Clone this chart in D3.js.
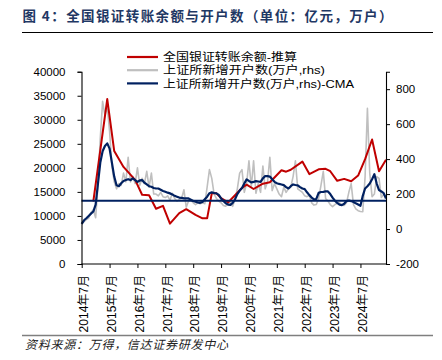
<!DOCTYPE html>
<html><head><meta charset="utf-8">
<script src="https://cdn.jsdelivr.net/npm/d3@7"></script>
<style>
body{margin:0;background:#fff;}
svg{display:block;}
</style></head>
<body><svg id="c" width="442" height="360"></svg>
<script>
// ---- data ----
const titleText = "图 4：全国银证转账余额与开户数（单位：亿元，万户）";
const sourceText = "资料来源：万得，信达证券研发中心";
const legendLabels = ["全国银证转账余额-推算", "上证所新增开户数(万户,rhs)", "上证所新增开户数(万户,rhs)-CMA"];
const startMonth = "2014-07", endMonth = "2025-06";
const leftTicks = [0, 5000, 10000, 15000, 20000, 25000, 30000, 35000, 40000];
const rightTicks = [-200, 0, 200, 400, 600, 800];
const redMonths = ["2014-12","2015-06","2015-09","2016-01","2016-06","2016-09","2016-12","2017-03","2017-06","2017-09",
  "2018-01","2018-04","2018-08","2018-11","2019-01","2019-03","2019-05","2019-07","2019-10","2020-01",
  "2020-04","2020-06","2020-09","2021-01","2021-04","2021-06","2021-09","2021-11","2022-01","2022-06",
  "2022-09","2023-01","2023-04","2023-06","2023-09","2023-12","2024-03","2024-06","2024-09","2024-12",
  "2025-03","2025-06"];
const redValues = [13000,34300,23500,20200,17500,14400,14300,11500,12100,8400,
  10600,11400,10200,9500,9500,14700,14700,13700,12800,14300,
  15800,16500,15600,16700,17000,18000,19500,19200,19600,21300,
  18700,19700,19800,19300,17300,17700,17200,18400,21800,25900,
  19300,21700];
const grayValues = [30,42,55,62,95,110,65,250,520,730,
  650,700,560,360,270,230,260,250,320,270,
  410,270,300,260,350,250,290,260,330,240,
  320,200,200,190,210,185,180,190,165,205,
  175,160,170,175,225,125,160,165,150,140,
  150,145,150,145,240,340,290,200,175,160,
  150,135,130,145,150,130,170,230,320,340,
  210,260,390,240,390,205,260,210,360,230,
  270,410,220,260,230,200,185,240,210,230,
  240,300,390,230,220,210,190,185,194,150,
  137,140,175,250,330,175,160,140,128,140,
  147,150,137,135,150,210,260,140,115,105,
  100,99,300,690,320,185,200,300,290,180,
  200,185];
const cmaValues = [30,50,62,75,88,100,140,260,380,445,
  475,490,460,380,300,250,245,262,275,280,
  285,280,290,280,270,278,280,265,255,245,
  242,235,232,232,225,218,213,208,204,198,
  190,185,180,178,175,175,175,168,160,156,
  152,150,155,170,185,205,210,206,204,195,
  175,160,147,140,138,150,170,200,220,235,
  260,284,275,267,270,274,272,270,290,303,
  303,300,285,270,262,258,255,251,240,232,
  245,255,252,250,240,232,228,210,194,180,
  170,172,207,212,213,215,215,200,180,162,
  150,140,137,145,160,163,160,155,147,140,
  133,190,232,245,260,285,314,260,223,215,
  205,175];
const cmaMean = 162;

// ---- build months ----
const parse = d3.timeParse("%Y-%m"), fmt = d3.timeFormat("%Y-%m");
const months = d3.timeMonth.range(parse(startMonth), d3.timeMonth.offset(parse(endMonth), 1)).map(fmt);

// ---- layout ----
const L = 81.5, R = 386, T = 71.7, B = 264;
const svg = d3.select("#c");
const x = d3.scalePoint().domain(months).range([L + 0.2, R]);
const yL = d3.scaleLinear().domain([0, 40000]).range([B, T]);
const yR = d3.scaleLinear().domain([-200, 900]).range([B, T]);

const numFont = "'Liberation Sans', Arial, sans-serif";
const cjkFont = "'Noto Sans CJK SC', sans-serif";

// title
svg.append("text").attr("x", 22.5).attr("y", 20.5)
  .attr("font-family", cjkFont).attr("font-weight", "bold").attr("font-size", 13.5)
  .attr("fill", "#1F3864").attr("textLength", 370).attr("lengthAdjust", "spacing")
  .text(titleText);
svg.append("line").attr("x1", 22).attr("x2", 433).attr("y1", 32.5).attr("y2", 32.5)
  .attr("stroke", "#000").attr("stroke-width", 1);

// lines
const lineG = d3.line().x((d, i) => x(months[i])).y(d => yR(d));
svg.append("path").datum(grayValues).attr("d", lineG)
  .attr("fill", "none").attr("stroke", "#BFBFBF").attr("stroke-width", 1.6).attr("stroke-linejoin", "round");
const redData = redMonths.map((m, i) => ({m, v: redValues[i]}));
svg.append("path").datum(redData)
  .attr("d", d3.line().x(d => x(d.m)).y(d => yL(d.v)))
  .attr("fill", "none").attr("stroke", "#C00000").attr("stroke-width", 2).attr("stroke-linejoin", "round");
svg.append("path").datum(cmaValues).attr("d", lineG)
  .attr("fill", "none").attr("stroke", "#002060").attr("stroke-width", 2.2).attr("stroke-linejoin", "round");
svg.append("line").attr("x1", L).attr("x2", R).attr("y1", yR(cmaMean)).attr("y2", yR(cmaMean))
  .attr("stroke", "#002060").attr("stroke-width", 2);

// axes
const axL = svg.append("g").attr("transform", `translate(${L},0)`)
  .call(d3.axisLeft(yL).tickValues(leftTicks).tickSize(4).tickPadding(12).tickFormat(d3.format("d")));
const axR = svg.append("g").attr("transform", `translate(${R},0)`)
  .call(d3.axisRight(yR).tickValues(rightTicks).tickSize(4).tickPadding(6).tickFormat(d => d < 0 ? "-" + Math.abs(d) : d));
const xTicks = months.filter(m => m.endsWith("-07"));
const axB = svg.append("g").attr("transform", `translate(0,${B})`)
  .call(d3.axisBottom(x).tickValues(xTicks).tickSize(4).tickFormat(m => {
    const [yy, mm] = m.split("-"); return `${yy}年${+mm}月`; }));
[axL, axR, axB].forEach(a => {
  a.select(".domain").attr("stroke", "#000").attr("stroke-width", 1.1);
  a.selectAll(".tick line").attr("stroke", "#000");
  a.selectAll("text").attr("fill", "#000");
});
axL.selectAll("text").attr("font-family", numFont).attr("font-size", 11.5);
axR.selectAll("text").attr("font-family", numFont).attr("font-size", 11.5);
axB.select(".domain").attr("d", `M${L},0H${R}`);
axB.selectAll(".tick text")
  .attr("font-family", "'Liberation Sans', 'Noto Sans CJK SC', sans-serif").attr("font-size", 12)
  .attr("transform", "rotate(-90)").attr("text-anchor", "end")
  .attr("x", -11).attr("y", 1.5).attr("dy", "0.35em");

// legend
const legColors = ["#C00000", "#BFBFBF", "#002060"];
const legY = [57, 70.2, 83.4];
const legW = [134, 162, 191];
legendLabels.forEach((t, i) => {
  svg.append("line").attr("x1", 127).attr("x2", 158).attr("y1", legY[i]).attr("y2", legY[i])
    .attr("stroke", legColors[i]).attr("stroke-width", 2.2);
  svg.append("text").attr("x", 163).attr("y", legY[i] + 4.2)
    .attr("font-family", "'Liberation Sans', 'Noto Sans CJK SC', sans-serif").attr("font-size", 11.5).attr("fill", "#000")
    .attr("textLength", legW[i]).attr("lengthAdjust", "spacingAndGlyphs")
    .text(t);
});

// bottom rule + source
svg.append("line").attr("x1", 22).attr("x2", 433).attr("y1", 335.5).attr("y2", 335.5)
  .attr("stroke", "#7F7F7F").attr("stroke-width", 1.5);
svg.append("text").attr("x", 25).attr("y", 349)
  .attr("font-family", cjkFont).attr("font-style", "italic").attr("font-size", 12)
  .attr("fill", "#222").attr("textLength", 203).attr("lengthAdjust", "spacing")
  .text(sourceText);
</script></body></html>
